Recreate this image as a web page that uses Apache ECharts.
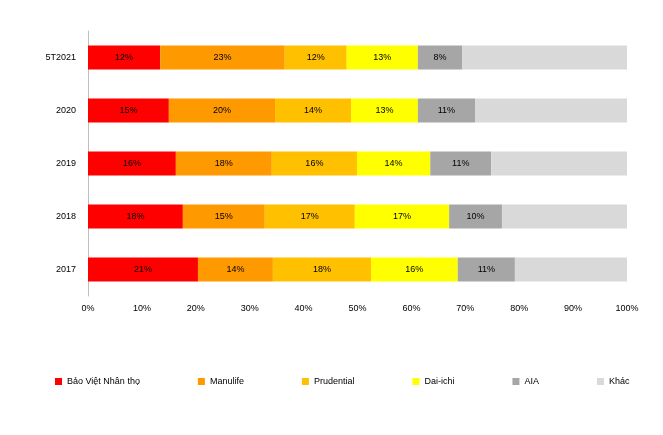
<!DOCTYPE html>
<html><head><meta charset="utf-8">
<script src="https://cdn.jsdelivr.net/npm/echarts@6/dist/echarts.min.js"></script>
<style>html,body{margin:0;padding:0;background:#fff}#main{width:663px;height:435px}</style>
</head><body><div id="main"></div>
<script>
// categories, bottom to top
var years = ['2017', '2018', '2019', '2020', '5T2021']
var names = ['Bảo Việt Nhân thọ', 'Manulife', 'Prudential', 'Dai-ichi', 'AIA', 'Khác']
var colors = ['#FF0000', '#FF9900', '#FFC000', '#FFFF00', '#A6A6A6', '#D9D9D9']

var baoViet = [20.4, 17.6, 16.3, 15.0, 13.4]
var manulife = [13.9, 15.2, 17.8, 19.7, 23.1]
var prudential = [18.2, 16.7, 15.8, 14.1, 11.5]
var daiichi = [16.1, 17.5, 13.6, 12.4, 13.2]
var aia = [10.6, 9.8, 11.3, 10.6, 8.2]
var khac = [20.8, 23.2, 25.2, 28.2, 30.6]

// labels printed on the bars
var baoVietLbl = ['21%', '18%', '16%', '15%', '12%']
var manulifeLbl = ['14%', '15%', '18%', '20%', '23%']
var prudentialLbl = ['18%', '17%', '16%', '14%', '12%']
var daiichiLbl = ['16%', '17%', '14%', '13%', '13%']
var aiaLbl = ['11%', '10%', '11%', '11%', '8%']

var values = [baoViet, manulife, prudential, daiichi, aia, khac]
var labels = [baoVietLbl, manulifeLbl, prudentialLbl, daiichiLbl, aiaLbl, null]

var echart = echarts.init(document.getElementById('main'))
var font = 'Liberation Sans'

var option = {
    textStyle: { fontFamily: font },
    grid: { left: 88, right: 36, top: 31, bottom: 139 },
    legend: {
        bottom: 44,
        left: 50,
        itemWidth: 7,
        itemHeight: 7,
        itemGap: 58,
        icon: 'rect',
        textStyle: { fontSize: 9, color: '#000', fontFamily: font },
        data: names
    },
    xAxis: {
        type: 'value', min: 0, max: 100, interval: 10,
        axisLabel: { formatter: '{value}%', fontSize: 9, color: '#000' },
        splitLine: { show: false },
        axisLine: { show: false }, axisTick: { show: false }
    },
    yAxis: {
        type: 'category', data: years,
        axisLabel: { fontSize: 9, color: '#000', margin: 12 },
        axisLine: { show: true, lineStyle: { color: '#bfbfbf' } },
        axisTick: { show: false }
    },
    series: names.map(function (n, i) {
        return {
            name: n, type: 'bar', stack: 'all', barWidth: 24,
            itemStyle: { color: colors[i] },
            label: {
                show: !!labels[i], fontSize: 9, color: '#000',
                formatter: function (p) { return labels[i] ? labels[i][p.dataIndex] : '' }
            },
            data: values[i]
        }
    })
}
echart.setOption(option)
</script>
</body></html>
